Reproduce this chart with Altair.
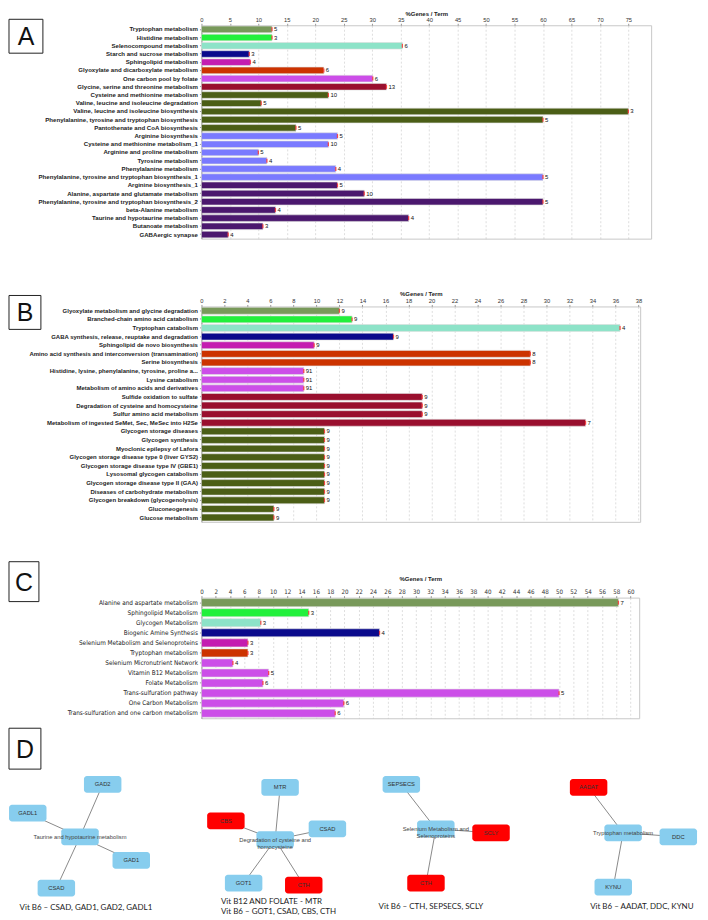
import altair as alt
import pandas as pd

# ---------------- data ----------------
OLIVE_GRAY = "#78995a"
BRIGHT_GREEN = "#22f03c"
AQUA = "#8de3c8"
NAVY = "#0a0a8c"
MAGENTA = "#c41cb0"
ORANGE_RED = "#cc3300"
VIOLET = "#cc4ee8"
CRIMSON = "#990f2e"
DARK_OLIVE = "#4b5e16"
PERIWINKLE = "#7a7aff"
DARK_PURPLE = "#4b186e"

a_terms = [
    "Tryptophan metabolism", "Histidine metabolism", "Selenocompound metabolism",
    "Starch and sucrose metabolism", "Sphingolipid metabolism",
    "Glyoxylate and dicarboxylate metabolism", "One carbon pool by folate",
    "Glycine, serine and threonine metabolism", "Cysteine and methionine metabolism",
    "Valine, leucine and isoleucine degradation", "Valine, leucine and isoleucine biosynthesis",
    "Phenylalanine, tyrosine and tryptophan biosynthesis", "Pantothenate and CoA biosynthesis",
    "Arginine biosynthesis", "Cysteine and methionine metabolism_1",
    "Arginine and proline metabolism", "Tyrosine metabolism", "Phenylalanine metabolism",
    "Phenylalanine, tyrosine and tryptophan biosynthesis_1", "Arginine biosynthesis_1",
    "Alanine, aspartate and glutamate metabolism",
    "Phenylalanine, tyrosine and tryptophan biosynthesis_2", "beta-Alanine metabolism",
    "Taurine and hypotaurine metabolism", "Butanoate metabolism", "GABAergic synapse",
]
a_values = [12.4, 12.4, 35.3, 8.4, 8.6, 21.5, 30.1, 32.5, 22.3, 10.5, 75.0, 60.0, 16.6,
            23.9, 22.3, 10.0, 11.5, 23.6, 60.0, 23.9, 28.6, 60.0, 13.0, 36.4, 10.8, 4.7]
a_counts = ["5", "3", "6", "3", "4", "6", "6", "13", "10", "5", "3", "5", "5",
            "5", "10", "5", "4", "4", "5", "5", "10", "5", "4", "4", "3", "4"]
a_colors = [OLIVE_GRAY, BRIGHT_GREEN, AQUA, NAVY, MAGENTA, ORANGE_RED, VIOLET, CRIMSON] + \
           [DARK_OLIVE] * 5 + [PERIWINKLE] * 6 + [DARK_PURPLE] * 7
a_ticks = list(range(0, 80, 5))

b_terms = [
    "Glyoxylate metabolism and glycine degradation", "Branched-chain amino acid catabolism",
    "Tryptophan catabolism", "GABA synthesis, release, reuptake and degradation",
    "Sphingolipid de novo biosynthesis",
    "Amino acid synthesis and interconversion (transamination)", "Serine biosynthesis",
    "Histidine, lysine, phenylalanine, tyrosine, proline a...", "Lysine catabolism",
    "Metabolism of amino acids and derivatives", "Sulfide oxidation to sulfate",
    "Degradation of cysteine and homocysteine", "Sulfur amino acid metabolism",
    "Metabolism of ingested SeMet, Sec, MeSec into H2Se", "Glycogen storage diseases",
    "Glycogen synthesis", "Myoclonic epilepsy of Lafora",
    "Glycogen storage disease type 0 (liver GYS2)", "Glycogen storage disease type IV (GBE1)",
    "Lysosomal glycogen catabolism", "Glycogen storage disease type II (GAA)",
    "Diseases of carbohydrate metabolism", "Glycogen breakdown (glycogenolysis)",
    "Gluconeogenesis", "Glucose metabolism",
]
b_values = [12.0, 13.1, 36.4, 16.7, 9.8, 28.6, 28.6, 8.9, 8.9, 8.9, 19.2, 19.2, 19.2, 33.4,
            10.7, 10.7, 10.7, 10.7, 10.7, 10.7, 10.7, 10.7, 10.7, 6.3, 6.3]
b_counts = ["9", "9", "4", "9", "9", "8", "8", "91", "91", "91", "9", "9", "9", "7",
            "9", "9", "9", "9", "9", "9", "9", "9", "9", "9", "9"]
b_colors = [OLIVE_GRAY, BRIGHT_GREEN, AQUA, NAVY, MAGENTA, ORANGE_RED, ORANGE_RED] + \
           [VIOLET] * 3 + [CRIMSON] * 4 + [DARK_OLIVE] * 11
b_ticks = list(range(0, 40, 2))

c_terms = [
    "Alanine and aspartate metabolism", "Sphingolipid Metabolism", "Glycogen Metabolism",
    "Biogenic Amine Synthesis", "Selenium Metabolism and Selenoproteins",
    "Tryptophan metabolism", "Selenium Micronutrient Network", "Vitamin B12 Metabolism",
    "Folate Metabolism", "Trans-sulfuration pathway", "One Carbon Metabolism",
    "Trans-sulfuration and one carbon metabolism",
]
c_values = [58.3, 15.0, 8.3, 24.9, 6.5, 6.5, 4.4, 9.4, 8.6, 50.0, 19.9, 18.7]
c_counts = ["7", "3", "3", "4", "3", "3", "4", "5", "6", "5", "6", "6"]
c_colors = [OLIVE_GRAY, BRIGHT_GREEN, AQUA, NAVY, MAGENTA, ORANGE_RED] + [VIOLET] * 6
c_ticks = list(range(0, 62, 2))

# network panel D (layout coordinates)
net_nodes = ["Taurine and hypotaurine metabolism", "GAD2", "GADL1", "GAD1", "CSAD",
             "Degradation of cysteine and\nhomocysteine", "MTR", "CBS", "CSAD ", "GOT1", "CTH",
             "Selenium Metabolism and\nSelenoproteins", "SEPSECS", "SCLY", "CTH ",
             "Tryptophan metabolism", "AADAT", "DDC", "KYNU"]
net_x = [77, 100, 24, 129, 53, 275, 280, 225, 328, 243, 304, 438, 403, 494, 428, 628, 593, 684, 618]
net_y = [837, 784, 813, 861, 889, 840, 787, 821, 829, 884, 886, 829, 784, 833, 884, 833, 787, 837, 888]
net_hit = [False, False, False, False, False, False, False, True, False, False, True,
           False, False, True, True, False, True, False, False]
net_center = [True, False, False, False, False, True, False, False, False, False, False,
              True, False, False, False, True, False, False, False]
net_group = [1, 1, 1, 1, 1, 2, 2, 2, 2, 2, 2, 3, 3, 3, 3, 4, 4, 4, 4]

captions = ["Vit B6 \u2013 CSAD, GAD1, GAD2, GADL1", "Vit B12 AND FOLATE  - MTR",
            "Vit B6 \u2013 GOT1, CSAD, CBS, CTH", "Vit B6 \u2013 CTH, SEPSECS, SCLY",
            "Vit B6 \u2013 AADAT, DDC, KYNU"]
caption_x = [83, 220, 220, 433, 647]
caption_y = [909, 903, 913, 908, 908]
caption_align = ["center", "left", "left", "center", "center"]

NARROW = "Liberation Sans Narrow, DejaVu Sans Condensed, Liberation Sans, sans-serif"

# ---------------- helpers ----------------
def letter_box(letter, x0, x1, y0, y1):
    d = pd.DataFrame({"t": [letter]})
    rect = alt.Chart(d).mark_rect(fill="white", stroke="#222", strokeWidth=1).encode(
        x=alt.value(x0), x2=alt.value(x1), y=alt.value(y0), y2=alt.value(y1))
    txt = alt.Chart(d).mark_text(fontSize=25, font="Liberation Sans", color="#111",
                                 baseline="middle", align="center").encode(
        x=alt.value((x0 + x1) / 2), y=alt.value((y0 + y1) / 2 + 1), text="t:N")
    return [rect, txt]


def bar_panel(terms, values, counts, colors, ticks, xmax, width, height, letter, box,
              label_font, label_size, label_weight, tick_font, tick_size, title_pad):
    df = pd.DataFrame({"term": terms, "value": values, "count": counts, "color": colors})
    y = alt.Y("term:N", sort=terms, title=None,
              scale=alt.Scale(paddingInner=0.2, paddingOuter=0.1),
              axis=alt.Axis(labelFont=label_font, labelFontSize=label_size,
                            labelFontWeight=label_weight, labelColor="#222", labelLimit=0,
                            tickSize=2, tickColor="#999", domainColor="#999",
                            labelPadding=2, labelOverlap=False))
    x = alt.X("value:Q", scale=alt.Scale(domain=[0, xmax], nice=False, zero=True),
              axis=alt.Axis(orient="top", title="%Genes / Term", values=ticks,
                            titleFont="Liberation Sans", titleFontSize=6,
                            titleFontWeight="bold", titleColor="#222", titlePadding=title_pad,
                            labelFont=tick_font, labelFontSize=tick_size, labelColor="#333",
                            labelPadding=1, tickSize=2, tickColor="#999", domain=False,
                            grid=True, gridDash=[2, 2], gridColor="#c8c8c8", gridWidth=0.6,
                            labelFlush=False, labelOverlap=False, labelBound=False))
    base = alt.Chart(df)
    bars = base.mark_bar(stroke="#dedede", strokeWidth=0.6).encode(
        x=x, y=y, color=alt.Color("color:N", scale=None))
    marks = base.mark_tick(color="#ff1010", thickness=1.3, size=4).encode(x=x, y=y)
    labels = base.mark_text(align="left", baseline="middle", dx=2, fontSize=6,
                            font="Liberation Sans", color="#111").encode(
        x=x, y=y, text="count:N")
    return alt.layer(bars, marks, labels, *letter_box(letter, *box)).properties(
        width=width, height=height,
        view=alt.ViewBackground(stroke="#c8c8c8", strokeWidth=1))


chart_a = bar_panel(a_terms, a_values, a_counts, a_colors, a_ticks, 79, 451, 214, "A",
                    (-193, -159, -6, 28), "Liberation Sans", 6.1, "bold",
                    "Liberation Sans", 5.8, 0)
chart_b = bar_panel(b_terms, b_values, b_counts, b_colors, b_ticks, 38.15, 440, 216, "B",
                    (-193, -161, -11, 23), "Liberation Sans", 6.0, "bold",
                    "Liberation Sans", 5.8, 1)
chart_c = bar_panel(c_terms, c_values, c_counts, c_colors, c_ticks, 61.2, 439, 121, "C",
                    (-193, -163, -36, 4), NARROW, 6.4, "normal", NARROW, 6.2, 7)

# ---------------- network panel ----------------
nodes = pd.DataFrame({"name": net_nodes, "cx": net_x, "cy": net_y, "hit": net_hit,
                      "center": net_center, "group": net_group})
nodes["label"] = nodes["name"].str.strip()
HW, HH = 19, 8.5
nodes["x0"] = nodes["cx"] - HW
nodes["x1"] = nodes["cx"] + HW
nodes["y0"] = nodes["cy"] - HH
nodes["y1"] = nodes["cy"] + HH
nodes["fill"] = ["#ff0000" if h else "#87cdee" for h in nodes["hit"]]

edge_rows = []
for g in sorted(set(net_group)):
    sub = nodes[nodes["group"] == g]
    c = sub[sub["center"]].iloc[0]
    for _, r in sub[~sub["center"]].iterrows():
        edge_rows.append({"x": c["cx"], "y": c["cy"], "x2": r["cx"], "y2": r["cy"]})
edges = pd.DataFrame(edge_rows)

capdf = pd.DataFrame({"text": captions, "x": caption_x, "y": caption_y, "align": caption_align})

# plot area of panel D starts at the bar panels' left edge
sx = alt.Scale(domain=[200.2, 705], nice=False, zero=False)
sy = alt.Scale(domain=[727, 917], nice=False, zero=False, reverse=True)

edge_layer = alt.Chart(edges).mark_rule(color="#8a8a8a", strokeWidth=1).encode(
    x=alt.X("x:Q", scale=sx, axis=None), y=alt.Y("y:Q", scale=sy, axis=None),
    x2="x2:Q", y2="y2:Q")
node_layer = alt.Chart(nodes).mark_rect(cornerRadius=3).encode(
    x=alt.X("x0:Q", scale=sx, axis=None), x2="x1:Q",
    y=alt.Y("y0:Q", scale=sy, axis=None), y2="y1:Q",
    fill=alt.Fill("fill:N", scale=None))
leaf_text = alt.Chart(nodes[~nodes["center"]]).mark_text(
    fontSize=5.8, font="Liberation Sans", color="#333", baseline="middle").encode(
    x=alt.X("cx:Q", scale=sx, axis=None), y=alt.Y("cy:Q", scale=sy, axis=None), text="label:N")
center_text = alt.Chart(nodes[nodes["center"]]).mark_text(
    fontSize=5.8, font="Liberation Sans", color="#444", baseline="middle",
    lineBreak="\n", lineHeight=7).encode(
    x=alt.X("cx:Q", scale=sx, axis=None), y=alt.Y("cy:Q", scale=sy, axis=None), text="label:N")
cap_center = alt.Chart(capdf[capdf["align"] == "center"]).mark_text(
    fontSize=8, font="Lato", color="#222", baseline="middle", align="center").encode(
    x=alt.X("x:Q", scale=sx, axis=None), y=alt.Y("y:Q", scale=sy, axis=None), text="text:N")
cap_left = alt.Chart(capdf[capdf["align"] == "left"]).mark_text(
    fontSize=8, font="Lato", color="#222", baseline="middle", align="left").encode(
    x=alt.X("x:Q", scale=sx, axis=None), y=alt.Y("y:Q", scale=sy, axis=None), text="text:N")

chart_d = alt.layer(edge_layer, node_layer, leaf_text, center_text, cap_center, cap_left,
                    *letter_box("D", -193, -161, 0, 41)).properties(
    width=499, height=188, view=alt.ViewBackground(stroke="transparent"))

top = alt.vconcat(chart_a, chart_b, spacing=50)
bottom = alt.vconcat(chart_c, chart_d, spacing=8)
chart = alt.vconcat(top, bottom, spacing=38).properties(
    padding={"left": 0, "top": 0, "right": 0, "bottom": 0},
    background="white")

chart.save("out.html", embed_options={"renderer": "svg", "actions": False})
